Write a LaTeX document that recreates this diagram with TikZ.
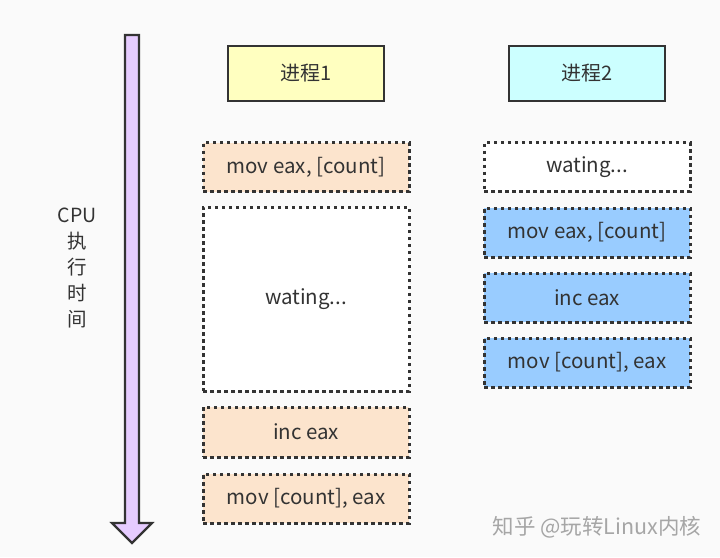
\documentclass[tikz,border=0pt]{standalone}
\usepackage{fontspec}
\setmainfont{Noto Sans CJK SC}
\usetikzlibrary{positioning}
\definecolor{bgcol}{HTML}{FAFAFA}
\definecolor{edgecol}{HTML}{333333}
\definecolor{headA}{HTML}{FFFFC0}
\definecolor{headB}{HTML}{CCFFFF}
\definecolor{stepA}{HTML}{FCE4CD}
\definecolor{stepB}{HTML}{99CCFF}
\definecolor{timecol}{HTML}{E6CCFF}

\begin{document}
\begin{tikzpicture}[x=1pt,y=-1pt]
	\tikzstyle{head} = [draw=edgecol,line width=2.2pt,minimum width=156pt,minimum height=55pt,inner sep=0pt,text=edgecol,font=\fontsize{20}{22}\selectfont]
	\tikzstyle{instr} = [draw=edgecol,line width=3pt,dash pattern=on 3.5pt off 3.5pt,minimum width=206pt,inner sep=0pt,text=edgecol,font=\fontsize{20.5}{22}\selectfont]
	% background
	\fill[bgcol] (0,0) rectangle (720,557);
	\useasboundingbox (0,0) rectangle (720,557);
	% time axis
	\draw[edgecol,line width=2.2pt,fill=timecol] (125,35) -- (139,35) -- (139,523) -- (152,523)
		-- (132,543) -- (112,523) -- (125,523) -- cycle;
	\node[align=center,text=edgecol,font=\fontsize{19.5}{26}\selectfont] (cpu) at (77,268) {CPU\\执\\行\\时\\间};
	% process headers
	\node[head,fill=headA] (proc1) at (306,73.5) {进程1};
	\node[head,fill=headB] (proc2) at (587,73.5) {进程2};
	% process 1
	\node[instr,fill=stepA,minimum height=49pt] (p1s1) at (306,167) {mov eax, [count]};
	\node[instr,fill=white,minimum height=184pt] (p1wait) at (306,299) {wating...};
	\node[instr,fill=stepA,minimum height=50pt] (p1s2) at (306,432) {inc eax};
	\node[instr,fill=stepA,minimum height=49pt] (p1s3) at (306,498.5) {mov [count], eax};
	% process 2
	\node[instr,fill=white,minimum height=49pt] (p2wait) at (587,167) {wating...};
	\node[instr,fill=stepB,minimum height=49pt] (p2s1) at (587,232.5) {mov eax, [count]};
	\node[instr,fill=stepB,minimum height=49pt] (p2s2) at (587,297.5) {inc eax};
	\node[instr,fill=stepB,minimum height=49pt] (p2s3) at (587,362.5) {mov [count], eax};
	% watermark
	\node[text=black!35,font=\fontsize{21.5}{23}\selectfont] (mark) at (597,527) {知乎 @玩转Linux内核};
\end{tikzpicture}
\end{document}
